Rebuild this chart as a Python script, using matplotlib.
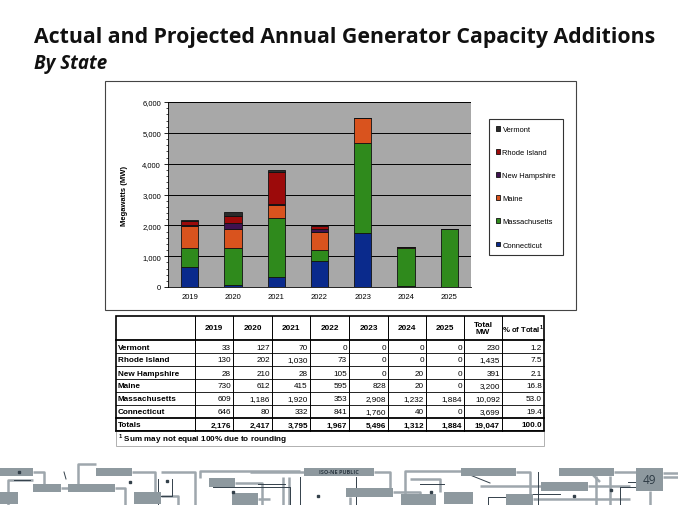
import matplotlib.pyplot as plt
import numpy as np
from matplotlib.patches import Rectangle

years = ["2019", "2020", "2021", "2022", "2023", "2024", "2025"]
states = ["Connecticut", "Massachusetts", "Maine", "New Hampshire", "Rhode Island", "Vermont"]
vermont = [33, 127, 70, 0, 0, 0, 0]
rhode_island = [130, 202, 1030, 73, 0, 0, 0]
new_hampshire = [28, 210, 28, 105, 0, 20, 0]
maine = [730, 612, 415, 595, 828, 20, 0]
massachusetts = [609, 1186, 1920, 353, 2908, 1232, 1884]
connecticut = [646, 80, 332, 841, 1760, 40, 0]
state_values = {
    "Connecticut": connecticut,
    "Massachusetts": massachusetts,
    "Maine": maine,
    "New Hampshire": new_hampshire,
    "Rhode Island": rhode_island,
    "Vermont": vermont,
}
total_mw = ["230", "1,435", "391", "3,200", "10,092", "3,699"]
pct_total = ["1.2", "7.5", "2.1", "16.8", "53.0", "19.4"]
col_totals = ["2,176", "2,417", "3,795", "1,967", "5,496", "1,312", "1,884", "19,047", "100.0"]
table_order = ["Vermont", "Rhode Island", "New Hampshire", "Maine", "Massachusetts", "Connecticut"]

colors = {
    "Connecticut": "#0a2a8c",
    "Massachusetts": "#2f8a1c",
    "Maine": "#d9531e",
    "New Hampshire": "#3f1250",
    "Rhode Island": "#9c0a0a",
    "Vermont": "#2b2b2b",
}

W, H = 678, 506
plt.rcParams["font.family"] = ["Liberation Sans", "DejaVu Sans"]
fig = plt.figure(figsize=(W / 100, H / 100), dpi=100)

# background canvas in pixel coordinates
bg = fig.add_axes([0, 0, 1, 1], zorder=0)
bg.set_xlim(0, W)
bg.set_ylim(H, 0)
bg.axis("off")


def fx(px):
    return px / W


def fy(py):
    return 1 - py / H


fig.text(fx(34), fy(38), "Actual and Projected Annual Generator Capacity Additions",
         family=["Open Sans", "DejaVu Sans"], fontweight="bold", fontsize=15.3,
         va="center", ha="left", color="#111111")
fig.text(fx(34), fy(64), "By State", family=["Open Sans", "DejaVu Sans"],
         fontweight="bold", fontstyle="italic", fontsize=13.5, va="center", ha="left",
         color="#111111")

# chart frame
bg.add_patch(Rectangle((105, 82), 471, 229, facecolor="white", edgecolor="#444444", lw=0.8))

# bar chart
ax = fig.add_axes([fx(168), fy(288), (471 - 168) / W, (288 - 103) / H], zorder=2)
ax.set_facecolor("#a8a8a8")
x = np.arange(len(years))
bottom = np.zeros(len(years))
handles = {}
for st in states:
    vals = np.array(state_values[st], dtype=float)
    b = ax.bar(x, vals, 0.4, bottom=bottom, color=colors[st], edgecolor="#111111",
               linewidth=0.6, label=st, zorder=3)
    handles[st] = b
    bottom += vals
ax.set_xlim(-0.5, len(years) - 0.5)
ax.set_ylim(0, 6000)
ax.set_yticks(range(0, 6001, 1000))
ax.set_yticklabels([f"{v:,}" for v in range(0, 6001, 1000)], fontsize=5.5)
ax.set_yticks(range(0, 6001, 200), minor=True)
ax.set_xticks(x)
ax.set_xticklabels(years, fontsize=5.5)
ax.tick_params(axis="x", length=0, pad=4)
ax.tick_params(axis="y", which="major", length=3, width=0.6, pad=2)
ax.tick_params(axis="y", which="minor", length=1.5, width=0.5)
ax.grid(axis="y", color="black", linewidth=0.7, zorder=1)
for s in ["top", "right"]:
    ax.spines[s].set_visible(False)
ax.spines["left"].set_linewidth(0.6)
ax.spines["bottom"].set_linewidth(0.6)
ax.set_ylabel("Megawatts (MW)", fontsize=5.5, fontweight="bold", labelpad=10)

leg_states = states[::-1]
leg = fig.legend([handles[s] for s in leg_states], leg_states, loc="upper left",
                 bbox_to_anchor=(fx(489), fy(120)), fontsize=5.4, frameon=True,
                 fancybox=False, edgecolor="black", labelspacing=2.15,
                 handlelength=0.6, handleheight=0.6, handletextpad=0.3,
                 borderpad=0.9, borderaxespad=0)
leg.get_frame().set_linewidth(0.8)
leg.set_zorder(3)

# table
cols = [116, 195, 233, 272, 310, 349, 388, 426, 464, 502, 544]
rows = [317, 341] + [341 + 13 * (i + 1) for i in range(7)]
foot_bottom = 447
tfs = 5.9

for yy in rows[1:-1]:
    lw = 1.3 if yy in (rows[1], rows[-2]) else 0.6
    bg.plot([cols[0], cols[-1]], [yy, yy], color="black", lw=lw)
for xx in cols[1:-1]:
    bg.plot([xx, xx], [rows[0], rows[-1]], color="black", lw=0.7)
bg.add_patch(Rectangle((cols[0], rows[0]), cols[-1] - cols[0], rows[-1] - rows[0],
                       fill=False, edgecolor="black", lw=1.2))
bg.add_patch(Rectangle((cols[0], rows[-1]), cols[-1] - cols[0], foot_bottom - rows[-1],
                       fill=False, edgecolor="#b0b0b0", lw=0.7))
bg.plot([cols[0], cols[-1]], [rows[-1], rows[-1]], color="black", lw=1.2)

hy = (rows[0] + rows[1]) / 2
for i, yr in enumerate(years):
    bg.text((cols[i + 1] + cols[i + 2]) / 2, hy, yr, fontsize=tfs, fontweight="bold",
            ha="center", va="center")
bg.text((cols[8] + cols[9]) / 2, hy, "Total\nMW", fontsize=tfs, fontweight="bold",
        ha="center", va="center", linespacing=1.1)
bg.text((cols[9] + cols[10]) / 2, hy, r"% of Total$^{\mathregular{1}}$", fontsize=tfs - 0.3,
        fontweight="bold", ha="center", va="center")

for r, st in enumerate(table_order):
    cy = (rows[r + 1] + rows[r + 2]) / 2 + 0.5
    bg.text(cols[0] + 2, cy, st, fontsize=tfs, fontweight="bold", ha="left", va="center")
    vals = [f"{v:,}" for v in state_values[st]]
    vals += [total_mw[r], pct_total[r]]
    for c, v in enumerate(vals):
        bg.text(cols[c + 2] - 2, cy, v, fontsize=tfs, ha="right", va="center")

cy = (rows[7] + rows[8]) / 2 + 0.5
bg.text(cols[0] + 2, cy, "Totals", fontsize=tfs, fontweight="bold", ha="left", va="center")
for c, v in enumerate(col_totals):
    bg.text(cols[c + 2] - 2, cy, v, fontsize=tfs, fontweight="bold", ha="right", va="center")
bg.text(cols[0] + 2, (rows[-1] + foot_bottom) / 2,
        r"$^{\mathregular{1}}$ Sum may not equal 100% due to rounding",
        fontsize=tfs, fontweight="bold", ha="left", va="center")

# decorative circuit footer
box_c = "#8e999f"
line_c = "#9ea7ad"
dark_c = "#33404a"
boxes = [(0, 469, 33, 8), (96, 469, 36, 8), (33, 485, 28, 8), (68, 485, 47, 8),
         (0, 493, 18, 12), (134, 493, 27, 12), (209, 479, 26, 9), (232, 494, 26, 12),
         (304, 469, 70, 8), (346, 489, 47, 9), (461, 469, 55, 8), (401, 495, 35, 11),
         (444, 493, 29, 12), (559, 469, 55, 8), (541, 483, 47, 9), (506, 495, 27, 11),
         (636, 469, 27, 23)]
glines = [
    ([33, 44, 44], [473, 473, 485]), ([8, 8, 33], [506, 481, 481]), ([61, 96], [489, 489]),
    ([78, 78, 96], [485, 465, 465]), ([115, 125, 125], [489, 489, 506]),
    ([132, 155, 155], [473, 473, 493]), ([161, 195, 195], [473, 473, 506]),
    ([161, 178, 178], [497, 497, 506]), ([200, 200, 300], [479, 472, 472]),
    ([235, 262, 262], [484, 484, 506]), ([258, 270], [500, 500]),
    ([283, 283], [478, 506]), ([289, 289], [478, 506]), ([250, 304], [473, 473]),
    ([374, 390, 390], [473, 473, 489]), ([393, 420, 420], [493, 493, 506]),
    ([405, 405, 461], [506, 472, 472]), ([410, 440, 440], [480, 480, 493]),
    ([516, 530, 530], [473, 473, 495]), ([480, 541], [487, 487]),
    ([588, 630], [487, 487]), ([533, 630], [500, 500]), ([614, 636], [473, 473]),
    ([610, 610], [477, 506]), ([650, 650], [492, 506]), ([663, 678], [474, 474]),
    ([663, 678], [478, 478]), ([596, 596], [477, 506]), ([350, 350], [498, 506]),
    ([590, 600], [473, 483]),
]
dlines = [
    ([14, 30], [481, 481]), ([64, 66], [473, 480]), ([158, 158], [480, 506]),
    ([213, 290, 290], [488, 488, 506]), ([160, 172, 172], [497, 497, 480]),
    ([258, 285], [485, 485]), ([300, 300], [478, 506]), ([356, 356], [478, 506]),
    ([420, 444], [485, 485]), ([488, 488, 506], [506, 498, 498]),
    ([533, 560], [495, 495]), ([628, 636], [483, 483]), ([636, 620, 620], [488, 488, 506]),
    ([538, 538], [473, 506]), ([470, 490], [476, 484]),
]
for (bx, by, bw, bh) in boxes:
    bg.add_patch(Rectangle((bx, by), bw, bh, facecolor=box_c, edgecolor="none", zorder=3))
for xs, ys in glines:
    bg.plot(xs, ys, color=line_c, lw=1.8, zorder=2, solid_capstyle="butt")
for xs, ys in dlines:
    bg.plot(xs, ys, color=dark_c, lw=0.7, zorder=2)
for (dx, dy) in [(19, 473), (130, 483), (167, 482), (233, 493), (318, 497), (431, 493),
                 (574, 497), (611, 491)]:
    bg.plot(dx, dy, "s", color=dark_c, ms=1.5, zorder=4)
bg.text(339, 473, "ISO-NE PUBLIC", fontsize=4, fontweight="bold", color="#2d3a44",
        ha="center", va="center", zorder=5, family=["Open Sans", "DejaVu Sans"])
bg.text(649.5, 480.5, "49", fontsize=8.5, color="#2d3a44", ha="center", va="center",
        zorder=5, family=["Open Sans", "DejaVu Sans"])

fig.savefig("out.png", dpi=100)
